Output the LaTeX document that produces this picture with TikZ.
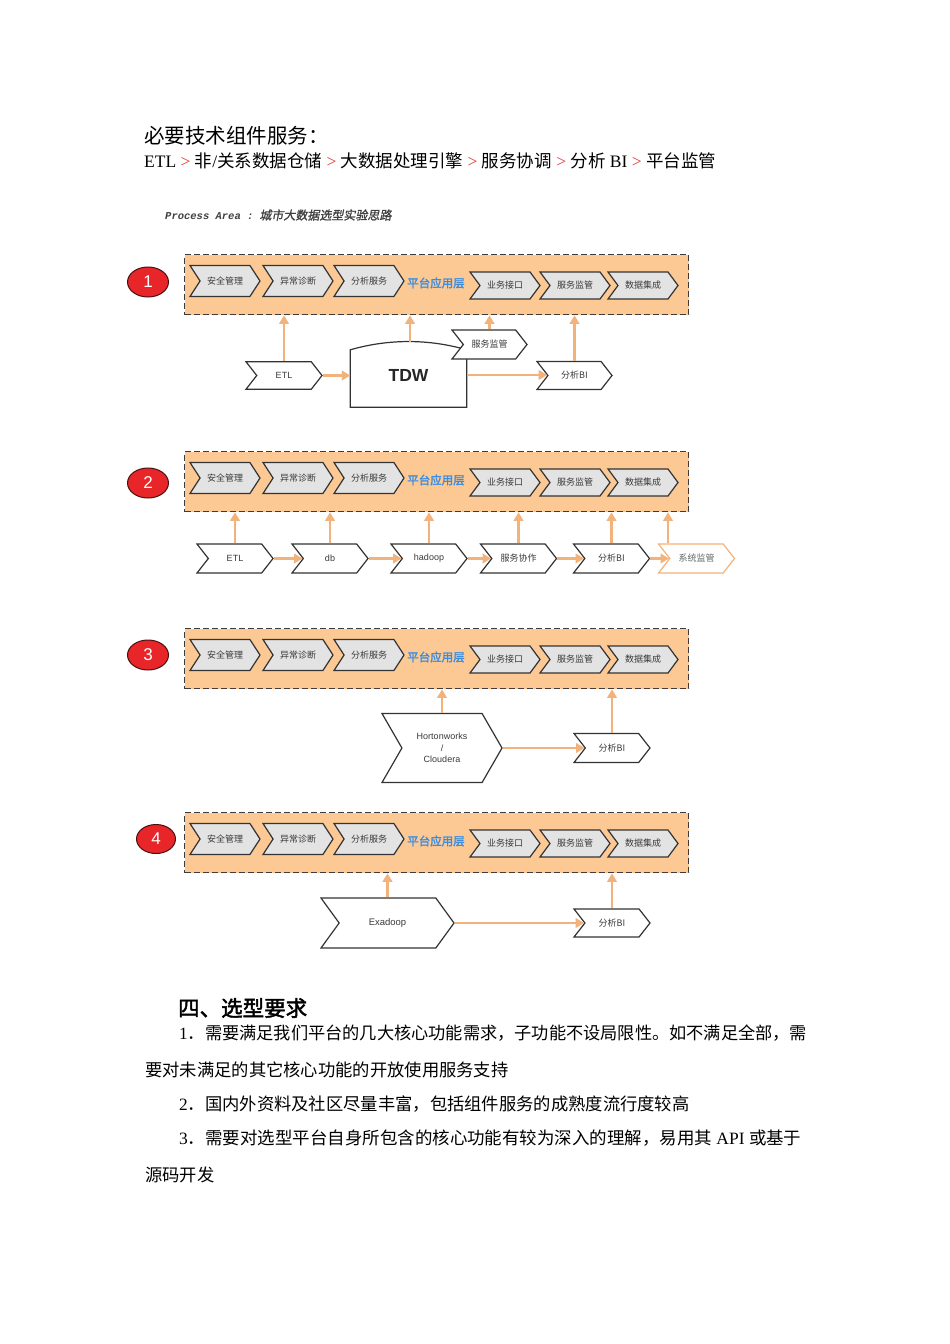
\documentclass[tikz,border=0pt]{standalone}
\usepackage{graphicx}
\usepackage{fontspec}
\setmainfont{Liberation Serif}
\newfontfamily\cjk{Noto Sans CJK SC}
\newfontfamily\cjkb[FakeBold=2]{Noto Sans CJK SC}
\newfontfamily\cjkbi[FakeBold=1.2,FakeSlant=0.2]{Noto Sans CJK SC}
\newfontfamily\lsans{Liberation Sans}
\newfontfamily\lmono{Liberation Mono}
\usetikzlibrary{shapes.symbols,shapes.geometric,arrows.meta,calc}
\definecolor{boxfill}{HTML}{FCC994}
\definecolor{boxdraw}{HTML}{3C3C3C}
\definecolor{chevfill}{HTML}{E3E3E3}
\definecolor{chevdraw}{HTML}{333333}
\definecolor{arrowc}{HTML}{F2B27B}
\definecolor{ballred}{HTML}{E8262A}
\definecolor{balldraw}{HTML}{4A1010}
\definecolor{layerblue}{HTML}{3A8CE0}
\definecolor{gtred}{HTML}{E23A36}
\definecolor{lbl}{HTML}{3A3A3A}
\definecolor{sysorange}{HTML}{F2B27B}
\tikzset{
 areabox/.style={draw=boxdraw, fill=boxfill, line width=1.3pt, dash pattern=on 6pt off 3pt, minimum width=504pt, minimum height=60pt, inner sep=0pt},
 ball/.style={ellipse, draw=balldraw, line width=1pt, fill=ballred, minimum width=41pt, minimum height=30pt, inner sep=0pt, text=white, font=\lsans\fontsize{17}{17}\selectfont},
 chev/.style={signal, signal to=east, signal from=west, signal pointer angle=#1, draw=chevdraw, line width=1.2pt, inner sep=0pt, text=lbl, font=\cjk\fontsize{9}{9}\selectfont},
 chev/.default=104,
 topa/.style={chev=114, fill=chevfill, minimum width=70pt, minimum height=31pt},
 topb/.style={chev=107, fill=chevfill, minimum width=70pt, minimum height=27pt},
 lowchev/.style={chev=104, fill=white, minimum width=76pt, minimum height=28pt},
 latlbl/.style={font=\lsans\fontsize{9}{9}\selectfont},
 layer/.style={text=layerblue, font=\cjkb\fontsize{11.5}{11.5}\selectfont, inner sep=0pt},
 arr/.style={draw=arrowc, line width=2.2pt, -{Triangle[length=8.5pt,width=9.5pt]}},
 txt/.style={anchor=west, inner sep=0pt},
}
\newcommand\procrow[2]{%
 \node[areabox, anchor=north west] (box#1) at (184,#2) {};
 \node[topa] (aq#1) at (225,{#2+27}) {安全管理};
 \node[topa] (yc#1) at (298,{#2+27}) {异常诊断};
 \node[topa] (fx#1) at (369,{#2+27}) {分析服务};
 \node[layer] (lay#1) at (436,{#2+29}) {平台应用层};
 \node[topb] (yw#1) at (505,{#2+31.5}) {业务接口};
 \node[topb] (fw#1) at (575,{#2+31.5}) {服务监管};
 \node[topb] (sj#1) at (643,{#2+31.5}) {数据集成};
}
\begin{document}
\begin{tikzpicture}[x=1pt,y=-1pt]
\fill[white] (0,0) rectangle (950,1344);
\useasboundingbox (0,0) rectangle (950,1344);

% heading texts
\node[txt] (h1) at (144,136) {\cjk\fontsize{20.5}{20.5}\selectfont 必要技术组件服务：};
\node[txt] (h2) at (144,161) {\fontsize{17.5}{17.5}\selectfont ETL {\color{gtred}>} {\cjk 非}/{\cjk 关系数据仓储} {\color{gtred}>} {\cjk 大数据处理引擎} {\color{gtred}>} {\cjk 服务协调} {\color{gtred}>} {\cjk 分析} BI {\color{gtred}>} {\cjk 平台监管}};
\node[txt, text=black!75] (pa) at (165,215) {\lmono\bfseries\itshape\fontsize{10.5}{10.5}\selectfont Process Area :\hspace{6pt}{\mdseries\upshape\cjkbi\fontsize{12}{12}\selectfont 城市大数据选型实验思路}};

% ---------- row 1
\procrow{1}{254}
\node[ball] (ball1) at (148,282) {1};
\node[lowchev, minimum height=27.5pt, latlbl] (etl1) at (284,375.5) {ETL};
\node[minimum width=116pt, minimum height=50pt, inner sep=0pt, font=\lsans\bfseries\fontsize{17.5}{17.5}\selectfont, text=black!85] (tdw) at (408.5,375) {TDW};
\draw[chevdraw, line width=1.2pt] ([yshift=-7pt]tdw.south west) -- (tdw.north west) .. controls ($(tdw.north west)+(38,-11)$) and ($(tdw.north east)+(-38,-11)$) .. (tdw.north east) -- ([yshift=-7pt]tdw.south east) -- cycle;
\coordinate (tdwtop) at ($(tdw.north)+(1.5,-8)$);
\node[lowchev, minimum width=75pt, minimum height=29pt] (fw1b) at (489.5,344.5) {服务监管};
\node[lowchev, minimum width=75pt] (bi1) at (574.5,375.5) {分析BI};
\draw[arr] (etl1.north) -- (etl1.north |- box1.south);
\draw[arr] (tdwtop) -- (tdwtop |- box1.south);
\draw[arr] (fw1b.north) -- (fw1b.north |- box1.south);
\draw[arr] (bi1.north) -- (bi1.north |- box1.south);
\draw[arr] (etl1.east) -- (etl1.east -| tdw.west);
\draw[arr] (tdw.east) -- (tdw.east -| bi1.west);

% ---------- row 2
\procrow{2}{451}
\node[ball] (ball2) at (148,483) {2};
\node[lowchev, minimum height=29pt, latlbl] (etl2) at (235,558.5) {ETL};
\node[lowchev, minimum height=29pt, latlbl] (db2) at (330,558.5) {db};
\node[lowchev, minimum height=29pt, latlbl] (hd2) at (429,558.5) {hadoop};
\node[lowchev, minimum height=29pt] (xz2) at (518.5,558.5) {服务协作};
\node[lowchev, minimum height=29pt] (bi2) at (611.5,558.5) {分析BI};
\node[lowchev, minimum height=29pt, draw=sysorange, text=black!60] (sys2) at (696.5,558.5) {系统监管};
\foreach \n in {etl2,db2,hd2,xz2,bi2}{\draw[arr] (\n.north) -- (\n.north |- box2.south);}
\draw[arr] ([xshift=-28.5pt]sys2.north) -- ([xshift=-28.5pt]sys2.north |- box2.south);
\draw[arr] (etl2.east) -- (db2.west);
\draw[arr] (db2.east) -- (hd2.west);
\draw[arr] (hd2.east) -- (xz2.west);
\draw[arr] (xz2.east) -- (bi2.west);
\draw[arr] (bi2.east) -- (sys2.west);

% ---------- row 3
\procrow{3}{628}
\node[ball] (ball3) at (148,655) {3};
\node[chev=120, fill=white, minimum width=120pt, minimum height=69pt, align=center, font=\lsans\fontsize{9}{11.5}\selectfont] (hw3) at (442,748) {Hortonworks\\/\\Cloudera};
\node[lowchev, minimum height=29pt] (bi3) at (612,748) {分析BI};
\draw[arr] (hw3.north) -- (hw3.north |- box3.south);
\draw[arr] (bi3.north) -- (bi3.north |- box3.south);
\draw[arr] (hw3.east) -- (hw3.east -| bi3.west);

% ---------- row 4
\procrow{4}{812}
\node[ball, minimum width=39pt, minimum height=29pt] (ball4) at (156,839) {4};
\node[chev=108, fill=white, minimum width=133pt, minimum height=50pt, font=\lsans\fontsize{9.5}{9.5}\selectfont] (exa4) at (387.5,923) {Exadoop};
\node[lowchev] (bi4) at (612,923) {分析BI};
\draw[arr] (exa4.north) -- (exa4.north |- box4.south);
\draw[arr] (bi4.north) -- (bi4.north |- box4.south);
\draw[arr] (exa4.east) -- (exa4.east -| bi4.west);

% bottom text
\node[txt] (s4) at (178,1008) {\cjkb\fontsize{21.5}{21.5}\selectfont 四、选型要求};
\node[txt] (l1) at (179,1033) {\fontsize{17.2}{17.2}\selectfont 1{\cjk ．需要满足我们平台的几大核心功能需求，子功能不设局限性。如不满足全部，需}};
\node[txt] (l1b) at (145,1070) {\cjk\fontsize{17.3}{17.3}\selectfont 要对未满足的其它核心功能的开放使用服务支持};
\node[txt] (l2) at (179,1104) {\fontsize{17.3}{17.3}\selectfont 2{\cjk ．国内外资料及社区尽量丰富，包括组件服务的成熟度流行度较高}};
\node[txt] (l3) at (179,1138) {\scalebox{1.01}[1]{\fontsize{17.3}{17.3}\selectfont 3{\cjk ．需要对选型平台自身所包含的核心功能有较为深入的理解，易用其} API {\cjk 或基于}}};
\node[txt] (l3b) at (145,1175) {\cjk\fontsize{17.3}{17.3}\selectfont 源码开发};
\end{tikzpicture}
\end{document}
